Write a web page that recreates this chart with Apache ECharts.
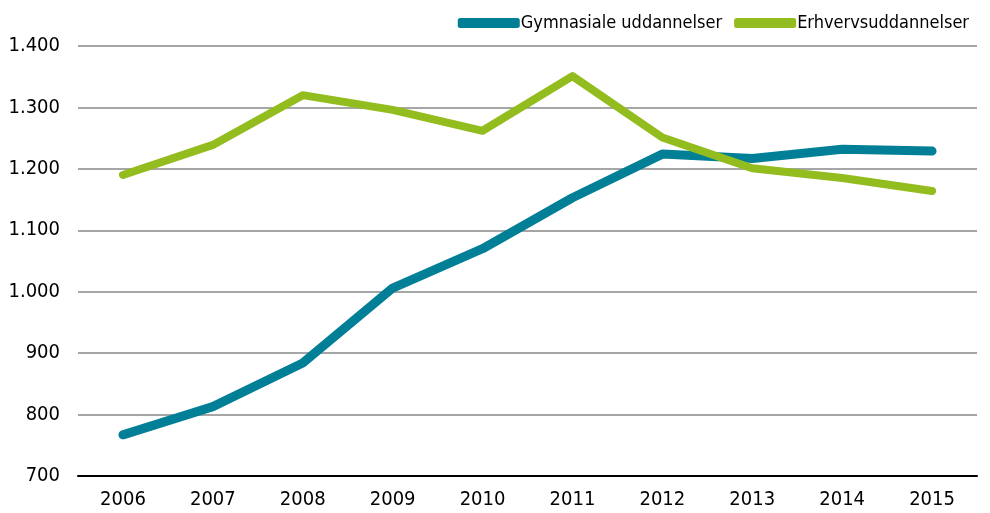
<!DOCTYPE html>
<html>
<head>
<meta charset="utf-8">
<script src="https://cdn.jsdelivr.net/npm/echarts@6/dist/echarts.min.js"></script>
<style>
	html, body { margin: 0; padding: 0; background: #fff; }
	#chart { width: 990px; height: 513px; }
</style>
</head>
<body>
<div id="chart"></div>
<script>
var years = ['2006', '2007', '2008', '2009', '2010', '2011', '2012', '2013', '2014', '2015'];
var gymnasiale = [767, 813, 884, 1006, 1070, 1153, 1224, 1217, 1232, 1229];
var erhverv = [1190, 1239, 1320, 1296, 1262, 1351, 1251, 1201, 1185, 1164];
var seriesNames = ['Gymnasiale uddannelser', 'Erhvervsuddannelser'];

var font = '"DejaVu Sans Condensed", sans-serif';

var myChart = echarts.init(document.getElementById('chart'));

var option = {
	animation: false,
	textStyle: { fontFamily: font },
	legend: {
		right: 16,
		top: 9,
		itemWidth: 62,
		itemHeight: 10,
		itemGap: 12,
		textStyle: { fontFamily: font, fontSize: 18, color: '#000', padding: [0, 0, 0, -4] },
		data: seriesNames.map(function(n) {
			return { name: n, icon: 'roundRect' };
		})
	},
	grid: {
		left: 78,
		right: 13,
		top: 46,
		bottom: 37
	},
	xAxis: {
		type: 'category',
		data: years,
		boundaryGap: true,
		axisLine: { lineStyle: { color: '#000', width: 2 } },
		axisTick: { show: false },
		axisLabel: { color: '#000', fontSize: 20, margin: 14, fontFamily: font }
	},
	yAxis: {
		type: 'value',
		min: 700,
		max: 1400,
		interval: 100,
		axisLine: { show: false },
		axisTick: { show: false },
		splitLine: { lineStyle: { color: '#a6a6a6', width: 2 } },
		axisLabel: {
			color: '#000',
			fontSize: 20,
			margin: 18,
			fontFamily: font,
			formatter: function(v) {
				return v >= 1000 ? Math.floor(v / 1000) + '.' + String(v % 1000).padStart(3, '0') : String(v);
			}
		}
	},
	series: [{
		name: seriesNames[0],
		type: 'line',
		data: gymnasiale,
		symbol: 'none',
		color: '#007f96',
		lineStyle: { width: 9, cap: 'round', join: 'round' },
		z: 3
	}, {
		name: seriesNames[1],
		type: 'line',
		data: erhverv,
		symbol: 'none',
		color: '#93bc1e',
		lineStyle: { width: 8, cap: 'round', join: 'round' },
		z: 4
	}]
};

myChart.setOption(option);
</script>
</body>
</html>
